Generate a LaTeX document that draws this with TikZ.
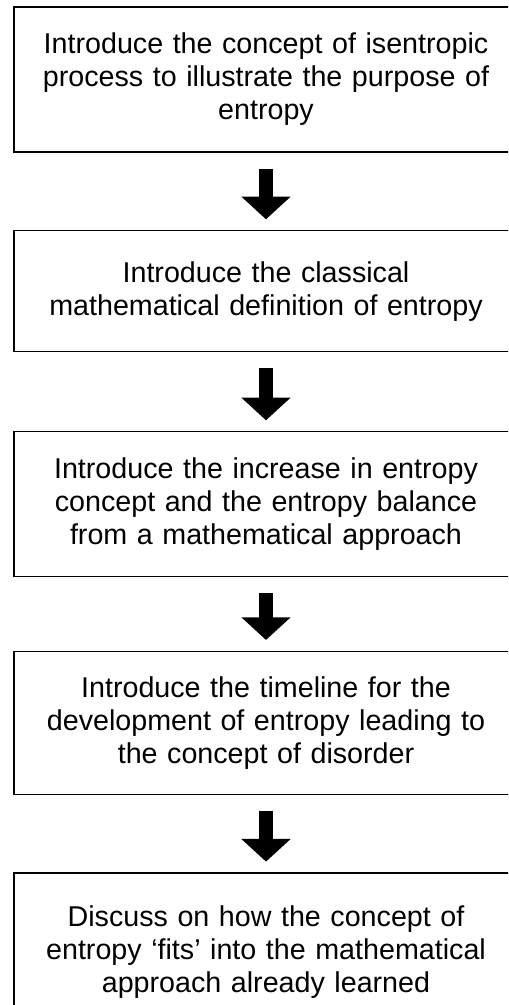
\documentclass[tikz,border=0pt]{standalone}
\usepackage{fontspec}
\setmainfont{Liberation Sans}
\usepackage{tikz}
\usetikzlibrary{arrows.meta,positioning}

\begin{document}
\begin{tikzpicture}[
    stage/.style={rectangle, draw, line width=1pt, text width=360pt, inner xsep=9pt, align=center,
        font=\fontsize{21.5pt}{24.75pt}\selectfont},
    arrow/.style={-{Triangle[width=36pt,length=17pt]}, line width=11pt, shorten <=12pt, shorten >=8pt}
]
\useasboundingbox (0,0) rectangle (381pt,-753.75pt);
\clip (0,0) rectangle (381pt,-753.75pt);

\node[stage, minimum height=108.75pt] (intro) at (199.5pt,-59.6pt)
    {Introduce the concept of isentropic\\ process to illustrate the purpose of\\ entropy};
\node[stage, minimum height=90.75pt, below=58pt of intro] (classic)
    {Introduce the classical\\ mathematical definition of entropy};
\node[stage, minimum height=108.75pt, below=59pt of classic] (increase)
    {Introduce the increase in entropy\\ concept and the entropy balance\\ from a mathematical approach};
\node[stage, minimum height=107.25pt, below=55pt of increase] (timeline)
    {Introduce the timeline for the\\ development of entropy leading to\\ the concept of disorder};
\node[stage, minimum height=118.5pt, below=58pt of timeline] (discuss)
    {Discuss on how the concept of\\ entropy ‘fits’ into the mathematical\\ approach already learned};

\draw[arrow] (intro) -- (classic);
\draw[arrow] (classic) -- (increase);
\draw[arrow] (increase) -- (timeline);
\draw[arrow] (timeline) -- (discuss);
\end{tikzpicture}
\end{document}
